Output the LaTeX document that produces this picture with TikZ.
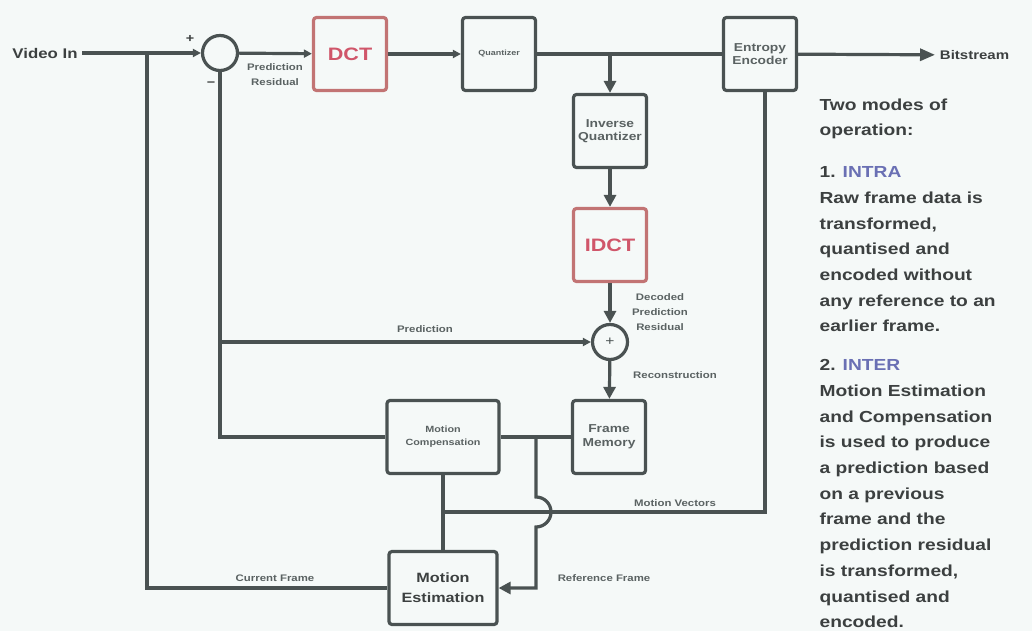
\documentclass[tikz,border=0pt]{standalone}
\usepackage{fontspec}
\setmainfont{Liberation Sans}[FakeStretch=1.2]
\usetikzlibrary{arrows.meta, positioning}

\definecolor{linecol}{HTML}{4A5252}
\definecolor{redcol}{HTML}{C27474}
\definecolor{redtxt}{HTML}{D0566A}
\definecolor{txtcol}{HTML}{3C4040}
\definecolor{lblcol}{HTML}{5A6262}
\definecolor{modecol}{HTML}{6A70B4}
\definecolor{bgcol}{HTML}{F5F9F8}

\begin{document}
\begin{tikzpicture}[x=1pt, y=1pt, line width=3.2pt, color=linecol,
  blk/.style={draw=linecol, rounded corners=3pt, minimum width=73pt,
              minimum height=73pt, align=center, text=lblcol,
              font=\fontsize{11.5}{13}\selectfont\bfseries},
  redblk/.style={blk, draw=redcol, text=redtxt,
                 font=\fontsize{18}{20}\selectfont\bfseries},
  sum/.style={draw=linecol, circle, minimum size=35pt, inner sep=0pt,
              text=linecol, font=\fontsize{13}{13}\selectfont},
  lbl/.style={text=lblcol, align=center,
              font=\fontsize{9.5}{15}\selectfont\bfseries},
  mode/.style={text=txtcol, align=left, anchor=north west, inner sep=0pt,
               font=\fontsize{16}{25.7}\selectfont\bfseries},
  arr/.style={-{Triangle[length=12pt,width=12pt]}},
  tip/.style={-{Triangle[length=8pt,width=8pt]}},
  bigarr/.style={-{Triangle[length=15pt,width=12pt]}}
]
  \fill[bgcol] (0,0) rectangle (1032,-631);
  \useasboundingbox (0,0) rectangle (1032,-631);

  % forward path
  \node[text=txtcol, font=\fontsize{14}{15}\selectfont\bfseries] (vin) at (45,-53) {Video In};
  \node[sum] (s1) at (220,-53) {};
  \node[redblk] (dct) at (350,-54) {DCT};
  \node[blk, font=\fontsize{7.5}{8}\selectfont\bfseries] (quant) at (499,-54) {Quantizer};
  \node[blk] (enc) at (760,-54) {Entropy\\Encoder};
  \node[anchor=west, text=txtcol, font=\fontsize{12.5}{13}\selectfont\bfseries] (bits) at (935,-55) {Bitstream};

  \coordinate (j1) at (147,-53);
  \coordinate (j3) at (610,-54);
  \draw[tip] (vin) -- (s1);
  \draw[tip] (s1) -- (dct);
  \draw[tip] (dct) -- (quant);
  \draw (quant) -- (enc);
  \draw[bigarr] (enc) -- (bits);

  \node[text=txtcol, font=\fontsize{12}{12}\selectfont\bfseries] (plus) at (190,-39) {+};
  \node[text=txtcol, font=\fontsize{12}{12}\selectfont\bfseries] (minus) at (211,-84) {−};
  \node[lbl] (predres) at (275,-75) {Prediction\\Residual};

  % decoding loop
  \node[blk] (iq) at (610,-131) {Inverse\\Quantizer};
  \node[redblk] (idct) at (610,-245) {IDCT};
  \node[sum] (s2) at (610,-342) {+};
  \node[blk, font=\fontsize{11.5}{14}\selectfont\bfseries] (fm) at (609,-437) {Frame\\Memory};
  \draw[arr] (j3) -- (iq);
  \draw[arr] (iq) -- (idct);
  \draw[arr] (idct) -- (s2);
  \draw[arr] (s2) -- (fm);

  \node[lbl] (decres) at (660,-312) {Decoded\\Prediction\\Residual};
  \node[lbl] (recon) at (675,-375) {Reconstruction};

  % prediction
  \node[blk, minimum width=112pt, font=\fontsize{9}{13}\selectfont\bfseries] (mc) at (443,-437) {Motion\\Compensation};
  \node[blk, minimum width=108pt, text=txtcol, font=\fontsize{13.5}{20}\selectfont\bfseries] (me) at (443,-588) {Motion\\Estimation};
  \coordinate (j2) at (220,-342);
  \coordinate (j4) at (536,-437);
  \coordinate (j5) at (443,-512);

  \draw (s1) |- (mc);
  \draw[tip] (j2) -- (s2);
  \draw (j1) |- (me);
  \draw (fm) -- (mc);
  \draw (me) -- (mc);
  \draw (j5) -| ([xshift=5pt]enc.south);
  \draw[arr] (j4) -- ([yshift=15pt]j4 |- j5) arc[start angle=90, end angle=-90, radius=15pt] |- (me.east);

  \node[lbl] (pred) at (425,-329) {Prediction};
  \node[lbl] (mvec) at (675,-503) {Motion Vectors};
  \node[lbl] (reff) at (604,-578) {Reference Frame};
  \node[lbl] (curf) at (275,-578) {Current Frame};

  % modes of operation
  \node[mode] (modes) at (818,-97) {Two modes of\\operation:};
  \node[mode] (intra) at (818,-165) {1. \textcolor{modecol}{INTRA}\\Raw frame data is\\transformed,\\quantised and\\encoded without\\any reference to an\\earlier frame.};
  \node[mode] (inter) at (818,-358) {2. \textcolor{modecol}{INTER}\\Motion Estimation\\and Compensation\\is used to produce\\a prediction based\\on a previous\\frame and the\\prediction residual\\is transformed,\\quantised and\\encoded.};
\end{tikzpicture}
\end{document}
